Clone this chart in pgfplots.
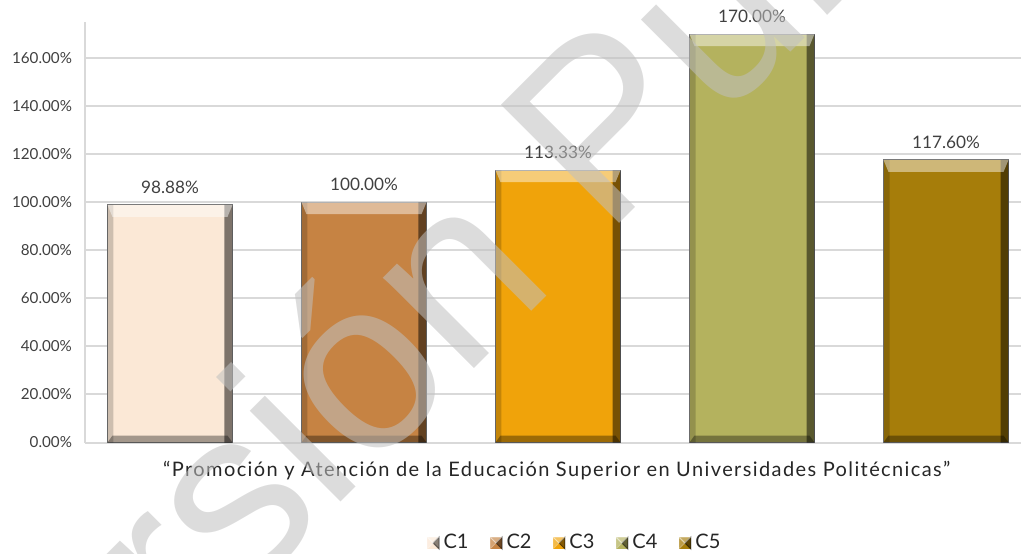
\documentclass[border=0pt]{standalone}
\usepackage{pgfplots}
\pgfplotsset{compat=1.18}
\usepackage{fontspec}
\setmainfont{Lato}
\newfontfamily\wmfont{Liberation Sans}
\newfontfamily\labfont[LetterSpace=7]{Lato}
\definecolor{cA}{RGB}{251,232,214}
\definecolor{cB}{RGB}{198,131,67}
\definecolor{cC}{RGB}{240,163,10}
\definecolor{cD}{RGB}{180,178,94}
\definecolor{cE}{RGB}{166,125,10}
\definecolor{gridc}{RGB}{217,217,217}
\definecolor{txt}{RGB}{64,64,64}
\definecolor{wm}{RGB}{192,192,192}
\pgfdeclareplotmark{bevtop}{%
  \pgfpathmoveto{\pgfpoint{-31.25pt}{0pt}}\pgfpathlineto{\pgfpoint{31.25pt}{0pt}}%
  \pgfpathlineto{\pgfpoint{28.75pt}{-6pt}}\pgfpathlineto{\pgfpoint{-28.75pt}{-6pt}}%
  \pgfpathclose\pgfusepathqfill}
\pgfdeclareplotmark{bevbot}{%
  \pgfpathmoveto{\pgfpoint{-31.25pt}{0pt}}\pgfpathlineto{\pgfpoint{31.25pt}{0pt}}%
  \pgfpathlineto{\pgfpoint{28.75pt}{3.5pt}}\pgfpathlineto{\pgfpoint{-28.75pt}{3.5pt}}%
  \pgfpathclose\pgfusepathqfill}
\pgfplotsset{
  mainbar/.style={ybar, bar shift=0pt, bar width=62.5pt, fill=#1, draw=black!55, line width=0.5pt,
    nodes near coords={\pgfmathprintnumber[fixed,fixed zerofill,precision=2]{\pgfplotspointmeta}\%},
    nodes near coords style={font=\fontsize{8.6}{10}\selectfont, text=txt, anchor=south, yshift=2pt}},
}
\begin{document}
\begin{tikzpicture}[x=1pt,y=1pt]
\useasboundingbox (0,0) rectangle (510.5,276.5);
\begin{axis}[
  at={(42.5pt,55.25pt)}, anchor=south west,
  scale only axis, width=468pt, height=210.25pt,
  xmin=0.5619, xmax=5.3866, ymin=0, ymax=175,
  xtick=\empty,
  ytick={0,20,40,60,80,100,120,140,160},
  yticklabel={\pgfmathprintnumber[fixed,fixed zerofill,precision=2]{\tick}\%},
  /pgf/number format/assume math mode=true,
  yticklabel style={font=\fontsize{7.6}{8}\selectfont, text=txt, anchor=east, xshift=-3pt},
  ymajorgrids, grid style={gridc, line width=1pt},
  major tick length=0pt,
  axis x line*=bottom, axis y line*=left,
  axis line style={gridc, line width=1pt, -},
  clip=false,
  xlabel={“Promoción y Atención de la Educación Superior en Universidades Politécnicas”},
  xlabel style={at={(axis description cs:0.504,-0.066)}, anchor=center, font=\labfont\fontsize{10}{12}\selectfont, text=black!85},
  legend style={at={(0.524,-0.239)}, anchor=center, draw=none, fill=none,
    legend columns=-1, font=\fontsize{10}{12}\selectfont, text=black!85,
    /tikz/every even column/.append style={column sep=8.5pt}},
  legend image code/.code={%
    \fill[#1, draw=none] (0pt,-3pt) rectangle (6pt,3pt);
    \fill[black,opacity=.45] (6pt,3pt) -- (6pt,-3pt) -- (3pt,0pt) -- cycle;
    \fill[white,opacity=.35] (0pt,3pt) -- (6pt,3pt) -- (3pt,0pt) -- cycle;
    \fill[white,opacity=.25] (0pt,3pt) -- (0pt,-3pt) -- (3pt,0pt) -- cycle;},
]
\addplot[mainbar=cA] coordinates {(1,98.88)};
\addplot[mainbar=cB] coordinates {(2,100.00)};
\addplot[mainbar=cC] coordinates {(3,113.33)};
\addplot[mainbar=cD] coordinates {(4,170.00)};
\addplot[mainbar=cE] coordinates {(5,117.60)};
\legend{C1,C2,C3,C4,C5}
% bevel: right (dark) and left (shaded) edges
\addplot[forget plot, ybar, bar shift=29.25pt, bar width=4pt, fill=black, fill opacity=.5, draw=none]
  coordinates {(1,98.88) (2,100.00) (3,113.33) (4,170.00) (5,117.60)};
\addplot[forget plot, ybar, bar shift=-29.75pt, bar width=3pt, fill=black, fill opacity=.18, draw=none]
  coordinates {(1,98.88) (2,100.00) (3,113.33) (4,170.00) (5,117.60)};
% bevel: top (light) and bottom (dark) edges
\addplot[forget plot, only marks, mark=bevtop, mark options={fill=white, fill opacity=.45, draw=none}]
  coordinates {(1,98.88) (2,100.00) (3,113.33) (4,170.00) (5,117.60)};
\addplot[forget plot, only marks, mark=bevbot, mark options={fill=black, fill opacity=.35, draw=none}]
  coordinates {(1,0) (2,0) (3,0) (4,0) (5,0)};
\end{axis}
\begin{scope}
\clip (0,0) rectangle (510.5,276.5);
\node[anchor=base west, inner sep=0pt, rotate=45, text=wm, opacity=0.55,
  font=\wmfont\fontsize{121.5}{121.5}\selectfont] at (-7.5,-152.5) {Versión Pública};
\end{scope}
\end{tikzpicture}
\end{document}
